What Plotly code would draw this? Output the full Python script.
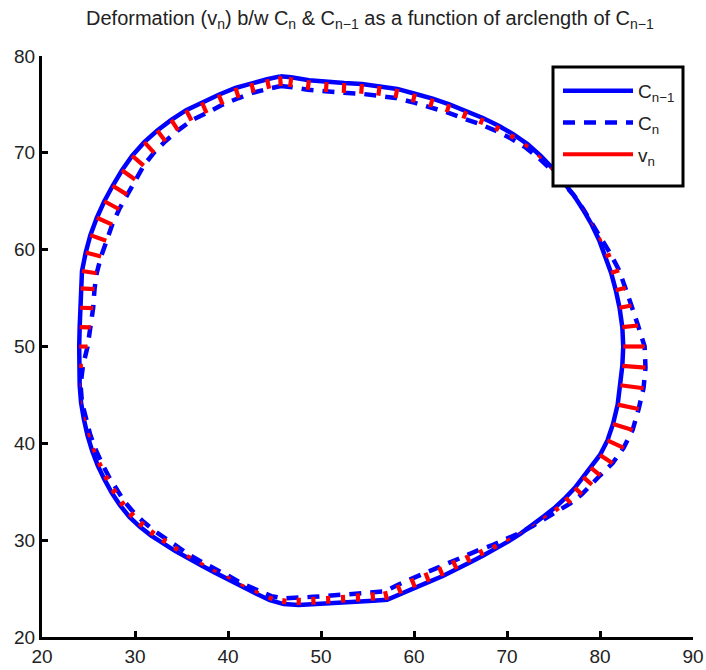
import numpy as np
import plotly.graph_objects as go

# C_{n-1}: points along the previous contour (clockwise, starting at the top)
prev_x = [45.6, 46.8, 48.7, 50.6, 52.5, 54.4, 56.3, 58.2, 60.1, 62.0,
          63.8, 65.6, 67.4, 69.1, 70.7, 72.2, 73.6, 74.9, 76.1, 77.2,
          78.2, 79.1, 79.9, 80.6, 81.2, 81.7, 82.1, 82.4, 82.5, 82.4,
          82.2, 81.9, 81.4, 80.8, 80.0, 79.0, 78.2, 77.3, 76.3, 75.2,
          74.0, 72.8, 71.5, 70.2, 68.8, 67.4, 66.0, 64.6, 63.1, 61.6,
          60.1, 58.6, 57.1, 55.6, 54.0, 52.4, 50.8, 49.2, 47.6, 46.0,
          44.5, 43.0, 41.5, 40.0, 38.5, 37.1, 35.7, 34.3, 33.0, 31.7,
          30.5, 29.4, 28.4, 27.5, 26.7, 26.0, 25.4, 24.9, 24.5, 24.2,
          24.05, 24.0, 24.0, 24.05, 24.1, 24.15, 24.3, 24.7, 25.2, 25.9,
          26.7, 27.6, 28.6, 29.7, 31.0, 32.4, 33.9, 35.5, 37.2, 39.0,
          40.8, 42.5, 44.2]
prev_y = [77.9, 77.8, 77.5, 77.3, 77.2, 77.1, 76.9, 76.6, 76.1, 75.6,
          75.0, 74.3, 73.6, 72.8, 71.9, 70.9, 69.7, 68.4, 67.0, 65.6,
          64.1, 62.6, 61.0, 59.3, 57.6, 55.8, 54.0, 52.0, 50.0, 48.0,
          46.0, 44.0, 42.0, 40.3, 38.8, 37.5, 36.5, 35.4, 34.4, 33.4,
          32.5, 31.6, 30.7, 29.9, 29.1, 28.4, 27.7, 27.0, 26.3, 25.7,
          25.1, 24.5, 23.85, 23.75, 23.65, 23.55, 23.45, 23.35, 23.3, 23.4,
          23.8, 24.5, 25.2, 26.0, 26.7, 27.4, 28.1, 28.9, 29.7, 30.5,
          31.4, 32.4, 33.6, 34.9, 36.3, 37.7, 39.2, 40.8, 42.5, 44.2,
          46.0, 48.0, 50.0, 52.0, 54.0, 56.0, 57.8, 59.7, 61.5, 63.3,
          65.0, 66.6, 68.2, 69.7, 71.1, 72.3, 73.4, 74.4, 75.2, 76.0,
          76.7, 77.2, 77.6]
# v_n: normal deformation at each point (positive = outward)
vn = [-1.0, -1.0, -1.0, -1.0, -1.0, -1.0, -1.0, -0.95, -0.9, -0.9,
      -0.85, -0.8, -0.7, -0.6, -0.5, -0.4, -0.3, -0.2, -0.1, 0.0,
      0.05, 0.1, 0.3, 0.6, 0.9, 1.1, 1.3, 1.7, 2.3, 2.5,
      2.5, 2.3, 2.2, 1.9, 1.6, 1.3, 1.2, 1.0, 0.8, 0.5,
      0.25, 0.1, -0.1, -0.3, -0.5, -0.7, -0.85, -1.0, -1.0, -1.0,
      -1.0, -0.95, -0.9, -0.85, -0.85, -0.8, -0.8, -0.8, -0.75, -0.6,
      -0.45, -0.35, -0.3, -0.3, -0.3, -0.35, -0.4, -0.5, -0.55, -0.6,
      -0.65, -0.65, -0.6, -0.6, -0.55, -0.5, -0.4, -0.3, -0.2, -0.1,
      -0.1, -0.4, -0.9, -1.2, -1.4, -1.5, -1.6, -1.7, -1.8, -1.8,
      -1.8, -1.8, -1.7, -1.6, -1.5, -1.4, -1.3, -1.2, -1.2, -1.1,
      -1.1, -1.0, -1.0]

x_ticks = [20, 30, 40, 50, 60, 70, 80, 90]
y_ticks = [20, 30, 40, 50, 60, 70, 80]

px = np.array(prev_x)
py = np.array(prev_y)
v = np.array(vn)
tx = np.roll(px, -1) - np.roll(px, 1)
ty = np.roll(py, -1) - np.roll(py, 1)
L = np.hypot(tx, ty)
nx, ny = -ty / L, tx / L
cx = px + v * nx
cy = py + v * ny

seg_x, seg_y = [], []
for a, b, c, d in zip(px, cx, py, cy):
    seg_x += [a, b, None]
    seg_y += [c, d, None]

BLUE = "rgb(0,0,255)"
RED = "rgb(255,0,0)"
FONT = "Liberation Sans, Arial, Helvetica, sans-serif"

W, H = 706, 670
ML, MR, MT, MB = 42, 13, 56, 33
PW, PH = W - ML - MR, H - MT - MB

fig = go.Figure()
fig.add_trace(go.Scatter(x=list(px) + [px[0]], y=list(py) + [py[0]], mode="lines",
                         line=dict(color=BLUE, width=4.5), name="C<sub>n−1</sub>",
                         legendgroup="a"))
fig.add_trace(go.Scatter(x=list(cx) + [cx[0]], y=list(cy) + [cy[0]], mode="lines",
                         line=dict(color=BLUE, width=4.5, dash="12px,9px"),
                         name="C<sub>n</sub>", legendgroup="b"))
fig.add_trace(go.Scatter(x=seg_x, y=seg_y, mode="lines",
                         line=dict(color=RED, width=4.2), name="v<sub>n</sub>",
                         legendgroup="c"))

axis_common = dict(showline=True, linecolor="black", linewidth=3, ticks="inside",
                   ticklen=6, tickwidth=3, tickcolor="black", showgrid=False,
                   zeroline=False, automargin=False,
                   tickfont=dict(family=FONT, size=19, color="#222"))
fig.update_xaxes(range=[20, 90], tickvals=x_ticks, **axis_common)
fig.update_yaxes(range=[20, 80], tickvals=y_ticks, **axis_common)

# legend frame (pixel positions converted to paper fractions)
fig.add_shape(type="rect", xref="paper", yref="paper", layer="above",
              x0=(553 - ML) / PW, x1=(683 - ML) / PW,
              y0=(H - MB - 186) / PH, y1=(H - MB - 67) / PH,
              fillcolor="white", line=dict(color="black", width=3))

fig.update_layout(
    width=W, height=H, autosize=False,
    margin=dict(l=ML, r=MR, t=MT, b=MB),
    paper_bgcolor="white", plot_bgcolor="white",
    title=dict(text="Deformation (v<sub>n</sub>) b/w C<sub>n</sub> &amp; C<sub>n−1</sub> as a function of arclength of C<sub>n−1</sub>",
               font=dict(family=FONT, size=20, color="#222"),
               x=0.524, xanchor="center", xref="container",
               y=1 - 11 / 670, yanchor="top", yref="container"),
    legend=dict(x=(558 - ML) / PW, xanchor="left", y=(H - MB - 72) / PH, yanchor="top",
                bgcolor="rgba(0,0,0,0)", borderwidth=0,
                font=dict(family=FONT, size=19, color="#222"),
                itemwidth=70, tracegroupgap=4),
    showlegend=True,
)

fig.write_html("out.html")
